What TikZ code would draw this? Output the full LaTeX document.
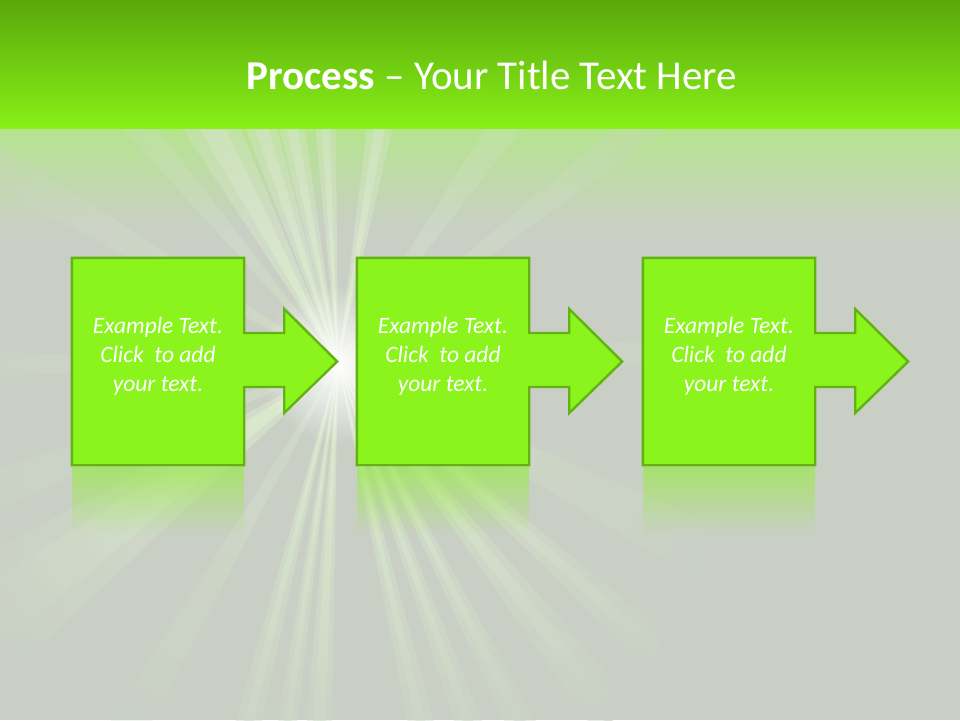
\documentclass[tikz,border=0pt]{standalone}
\usepackage{fontspec}
\setmainfont{Carlito}
\usetikzlibrary{fadings}
\tikzfading[name=myglow, inner color=transparent!0, outer color=transparent!100]
\definecolor{bggray}{HTML}{C9CFC5}
\definecolor{bandtop}{HTML}{5AA80A}
\definecolor{bandbot}{HTML}{88F018}
\definecolor{boxfill}{HTML}{8AF41C}
\definecolor{boxline}{HTML}{62B212}
\definecolor{rayc}{HTML}{DCFCC0}
\definecolor{bandfade}{HTML}{B4E48C}
\tikzset{
  boxshape/.style={minimum width=172pt, minimum height=207pt, inner sep=0pt, draw=none},
  arrowshape/.style={fill=boxfill, draw=boxline, line width=2.4pt, line join=miter},
  boxtext/.style={text=white, font=\fontsize{23.5}{29}\selectfont\itshape, align=center, inner sep=0pt},
  refl/.style={fill=boxfill!70!bggray, fill opacity=0.75, path fading=south},
  raylight/.style={inner color=white!30!rayc, outer color=bggray},
}
\newcommand\myraypath[2]{(0,0) -- ({cos(#1-#2/2)*900},{-sin(#1-#2/2)*900}) -- ({cos(#1+#2/2)*900},{-sin(#1+#2/2)*900}) -- cycle}
\begin{document}
\begin{tikzpicture}[x=1pt,y=-1pt]
\useasboundingbox (0,0) rectangle (960,720);
% background
\fill[bggray] (0,0) rectangle (960,720);
\shade[top color=bandfade, bottom color=bggray] (0,126) rectangle (960,228);
% light rays
\begin{scope}[shift={(338,364)}]
  % strong rays, wide soft layer
  \begin{scope}
    \clip \foreach \a/\w in {118/11, 108/7, 101/6, 93/5, 80/6, -42/5, -52/6, -63/4, -70/4, -77/4, -93/4, -98/3, -104/4, 216/15}{ \myraypath{\a}{\w} };
    \shade[raylight, opacity=0.4] (0,0) circle (450);
  \end{scope}
  % strong rays, narrow core
  \begin{scope}
    \clip \foreach \a/\w in {118/5, 108/3, 101/2.5, 93/2, 80/2.5, -42/2, -52/2.5, -63/1.5, -70/1.5, -77/1.5, -93/2, -98/1.2, -104/1.5, 216/8}{ \myraypath{\a}{\w} };
    \shade[raylight, opacity=0.5] (0,0) circle (450);
  \end{scope}
  % faint rays
  \begin{scope}
    \clip \foreach \a/\w in {55/6, 38/5, 2/5, -27/8, -120/5, 200/6, 180/4, 150/6, 130/5}{ \myraypath{\a}{\w} };
    \shade[raylight, opacity=0.25] (0,0) circle (450);
  \end{scope}
  \fill[white, path fading=myglow] (0,0) circle (80);
\end{scope}
% top band
\shade[top color=bandtop, bottom color=bandbot] (0,0) rectangle (960,128);
% reflections
\foreach \x in {72,357,643}{
  \fill[refl] (\x,467) rectangle (\x+172,535);
}
% boxes
\foreach \i/\cx/\txt in {1/158/{Example Text.\\Click\ \ to add\\your text.},
                          2/443/{Example Text.\\Click\ \ to add\\your text.},
                          3/729/{Example Text.\\Click\ \ to add\\your text.}}{
  \node[boxshape] (b\i) at (\cx,361.5) {};
  \draw[arrowshape] (b\i.north west) -- (b\i.north east) -- ([yshift=28.5]b\i.east)
    -- ([xshift=40,yshift=28.5]b\i.east) -- ([xshift=40,yshift=52.5]b\i.east)
    -- ([xshift=93]b\i.east) -- ([xshift=40,yshift=-51.5]b\i.east)
    -- ([xshift=40,yshift=-25.5]b\i.east) -- ([yshift=-25.5]b\i.east)
    -- (b\i.south east) -- (b\i.south west) -- cycle;
  \node[boxtext] (t\i) at ([yshift=5.5]b\i.center) {\txt};
}
% title
\node[text=white, font=\fontsize{41}{48}\selectfont, inner sep=0pt] (title) at (492,75) {\textbf{Process} -- Your Title Text Here};
\end{tikzpicture}
\end{document}
